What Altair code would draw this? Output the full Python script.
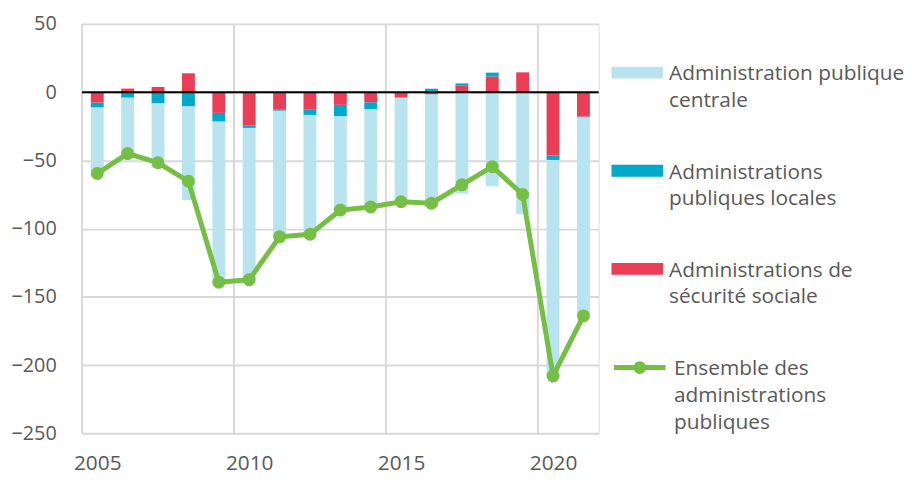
import altair as alt
import pandas as pd

years = list(range(2005, 2022))
apu_centrale = [-48.4, -43.6, -47.4, -68.8, -117.9, -111.2, -92.4, -87.4, -68.8,
                -71.7, -76.3, -82.4, -74.3, -68.9, -89.5, -158.2, -145.5]
apu_locales = [-3.6, -4.0, -8.1, -10.3, -6.2, -1.9, -0.7, -3.8, -8.3,
               -5.0, 0.0, 2.5, 1.4, 2.9, 0.0, -3.3, -0.5]
secu_sociale = [-7.6, 2.6, 3.8, 13.8, -15.2, -24.3, -12.9, -12.9, -9.3,
                -7.4, -4.0, -1.5, 5.0, 11.4, 14.5, -46.4, -17.9]
ensemble = [-59.6, -45.0, -51.7, -65.3, -139.3, -137.4, -106.0, -104.1, -86.4,
            -84.1, -80.3, -81.4, -67.9, -54.6, -75.0, -207.9, -163.9]

series_names = ["Administration publique centrale",
                "Administrations publiques locales",
                "Administrations de sécurité sociale"]
series_colors = ["#b8e3ef", "#00a9c9", "#ea3d56"]
total_name = "Ensemble des administrations publiques"
x_ticks = [2005, 2010, 2015, 2020]
y_ticks = [-250, -200, -150, -100, -50, 0, 50]
v_grid = [2004.5, 2009.5, 2014.5, 2019.5]

rows = []
for i, y in enumerate(years):
    rows.append({"annee": y, "serie": series_names[0], "valeur": apu_centrale[i], "ordre": 2})
    rows.append({"annee": y, "serie": series_names[1], "valeur": apu_locales[i], "ordre": 1})
    rows.append({"annee": y, "serie": series_names[2], "valeur": secu_sociale[i], "ordre": 0})
bars_df = pd.DataFrame(rows)
total_df = pd.DataFrame({"annee": years, "valeur": ensemble, "serie": total_name})

FONT = "Open Sans"
GRAY = "#595959"
GRID = "#d9d9d9"
GREEN = "#74bf44"

xscale = alt.Scale(domain=[2004.5, 2021.5], nice=False, zero=False, padding=0)
yscale = alt.Scale(domain=[-250, 50], nice=False, padding=0)

label_expr = ("datum.value == 'Administration publique centrale' ? ['Administration publique', 'centrale'] : "
              "datum.value == 'Administrations publiques locales' ? ['Administrations', 'publiques locales'] : "
              "datum.value == 'Administrations de sécurité sociale' ? ['Administrations de', 'sécurité sociale'] : "
              "['Ensemble des', 'administrations', 'publiques']")

base_axis_x = alt.Axis(values=x_ticks, format="d", grid=False, ticks=False, domain=False,
                       labelFontSize=21, labelLineHeight=21, labelColor=GRAY, labelFont=FONT,
                       labelPadding=19, title=None)
base_axis_y = alt.Axis(values=y_ticks, grid=True, gridColor=GRID, gridWidth=2, ticks=False,
                       domain=False, labelFontSize=20, labelLineHeight=20, labelColor=GRAY,
                       labelFont=FONT, labelPadding=26, title=None)

vgrid = alt.Chart(pd.DataFrame({"annee": v_grid})).mark_rule(color=GRID, strokeWidth=2).encode(
    x=alt.X("annee:Q", scale=xscale, axis=base_axis_x)
)

bars = alt.Chart(bars_df).mark_bar(width=13).encode(
    x=alt.X("annee:Q", scale=xscale, axis=base_axis_x),
    y=alt.Y("valeur:Q", scale=yscale, axis=base_axis_y, stack="zero"),
    color=alt.Color("serie:N",
                    scale=alt.Scale(domain=series_names, range=series_colors),
                    sort=series_names,
                    legend=alt.Legend(orient="none", legendX=534, legendY=14, title=None,
                                      symbolType="M-1,0.12L1,0.12L1,0.58L-1,0.58Z",
                                      symbolSize=2704, symbolStrokeWidth=0,
                                      labelFontSize=21, labelColor=GRAY, labelFont=FONT,
                                      labelLimit=400, labelOffset=6, rowPadding=25,
                                      labelBaseline="top", padding=0, labelExpr=label_expr)),
    order=alt.Order("ordre:Q"),
)

zero = alt.Chart(pd.DataFrame({"v": [0]})).mark_rule(color="#000000", strokeWidth=2).encode(
    y=alt.Y("v:Q", scale=yscale)
)

line = alt.Chart(total_df).mark_line(strokeWidth=5).encode(
    x=alt.X("annee:Q", scale=xscale),
    y=alt.Y("valeur:Q", scale=yscale),
    stroke=alt.Stroke("serie:N", scale=alt.Scale(domain=[total_name], range=[GREEN]),
                      legend=alt.Legend(orient="none", legendX=534, legendY=309, title=None,
                                        symbolType="M-1,0.35L1,0.35M0.15,0.35A0.15,0.15,0,1,1,-0.15,0.35A0.15,0.15,0,1,1,0.15,0.35Z",
                                        symbolSize=2704, symbolStrokeWidth=5,
                                        symbolFillColor=GREEN,
                                        labelFontSize=21, labelColor=GRAY, labelFont=FONT,
                                        labelLimit=400, labelOffset=6,
                                        labelBaseline="top", padding=0, labelExpr=label_expr)),
)

points = alt.Chart(total_df).mark_circle(size=170, opacity=1, color=GREEN).encode(
    x=alt.X("annee:Q", scale=xscale),
    y=alt.Y("valeur:Q", scale=yscale),
)

chart = alt.layer(vgrid, bars, zero, line, points).properties(
    width=521, height=413, autosize="none",
    padding={"left": 74.7, "top": 14, "right": 308, "bottom": 44},
).configure_view(stroke=None).configure(
    style={"guide-label": {"lineHeight": 27}}
)

chart.save("out.html", embed_options={"renderer": "svg", "actions": False})
